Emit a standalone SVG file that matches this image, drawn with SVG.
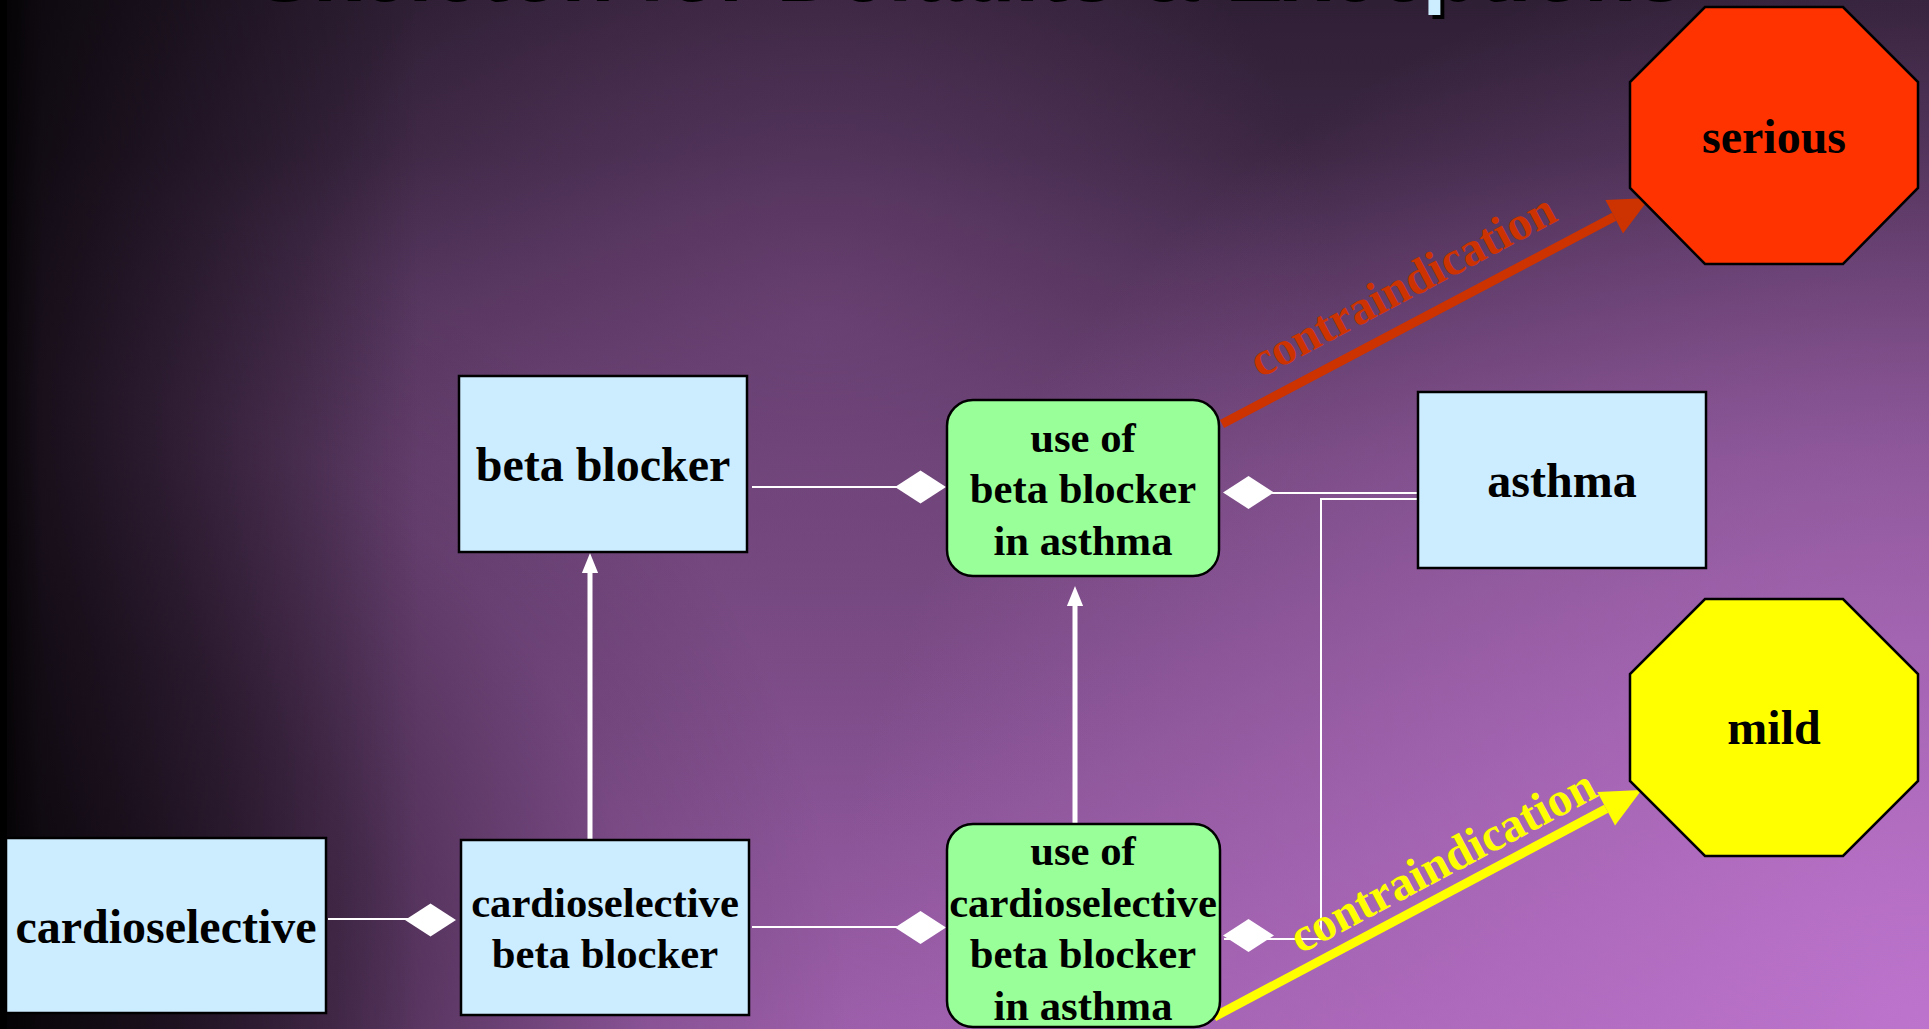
<svg xmlns="http://www.w3.org/2000/svg" width="1929" height="1029" viewBox="0 0 1929 1029">
  <defs>
    <!-- slide background layers -->
    <linearGradient id="bgV" x1="0" y1="0" x2="0" y2="1">
      <stop offset="0" stop-color="#2f1f35"/>
      <stop offset="0.15" stop-color="#3b2642"/>
      <stop offset="0.45" stop-color="#6a4274"/>
      <stop offset="1" stop-color="#9c5eaa"/>
    </linearGradient>
    <radialGradient id="bgBR" cx="1929" cy="1029" r="1100" gradientUnits="userSpaceOnUse">
      <stop offset="0" stop-color="#c076d0" stop-opacity="0.9"/>
      <stop offset="1" stop-color="#c076d0" stop-opacity="0"/>
    </radialGradient>
    <radialGradient id="bgHi" cx="820" cy="330" r="520" gradientUnits="userSpaceOnUse">
      <stop offset="0" stop-color="#7a4a84" stop-opacity="0.55"/>
      <stop offset="1" stop-color="#7a4a84" stop-opacity="0"/>
    </radialGradient>
    <linearGradient id="bgL" x1="0" y1="0" x2="420" y2="0" gradientUnits="userSpaceOnUse">
      <stop offset="0" stop-color="#000" stop-opacity="0.92"/>
      <stop offset="0.1" stop-color="#000" stop-opacity="0.7"/>
      <stop offset="1" stop-color="#000" stop-opacity="0"/>
    </linearGradient>
    <radialGradient id="bgBL" cx="0" cy="1029" r="1000" gradientUnits="userSpaceOnUse">
      <stop offset="0" stop-color="#000" stop-opacity="0.8"/>
      <stop offset="0.4" stop-color="#000" stop-opacity="0.45"/>
      <stop offset="0.65" stop-color="#000" stop-opacity="0.12"/>
      <stop offset="0.85" stop-color="#000" stop-opacity="0"/>
    </radialGradient>

    <!-- arrowheads -->
    <marker id="headWhite" markerUnits="userSpaceOnUse" markerWidth="20" markerHeight="22" refX="0" refY="0" viewBox="0 -10 21 20" orient="auto" overflow="visible">
      <path d="M0,-8.5 L21,0 L0,8.5 z" fill="#ffffff"/>
    </marker>
    <marker id="headRed" markerUnits="userSpaceOnUse" markerWidth="40" markerHeight="40" refX="0" refY="0" viewBox="0 -18 36 36" orient="auto" overflow="visible">
      <path d="M0,-17 L36,0 L0,17 z" fill="#cc3300"/>
    </marker>
    <marker id="headYellow" markerUnits="userSpaceOnUse" markerWidth="40" markerHeight="40" refX="0" refY="0" viewBox="0 -18 36 36" orient="auto" overflow="visible">
      <path d="M0,-17 L36,0 L0,17 z" fill="#ffff00"/>
    </marker>

    <!-- whole/part diamond -->
    <path id="diamond" d="M0,0 L25.5,-16.5 L51,0 L25.5,16.5 z" fill="#ffffff"/>

    <style>
      .box { fill: #ccecff; stroke: #000; stroke-width: 2.5; }
      .use { fill: #99ff99; stroke: #000; stroke-width: 2.5; }
      .oct { stroke: #000; stroke-width: 2.5; }
      .lbl { font-family: "Liberation Serif", "Times New Roman", serif; font-weight: bold; font-size: 48px; fill: #000; text-anchor: middle; }
      .sm { font-size: 42.67px; }
      .thin { stroke: #ffffff; stroke-width: 2; fill: none; }
      .thick { stroke: #ffffff; stroke-width: 5; fill: none; }
      .edge { font-family: "Liberation Serif", "Times New Roman", serif; font-weight: bold; font-size: 48px; text-anchor: middle; }
      .title { font-family: "Liberation Sans", Arial, sans-serif; font-weight: bold; font-size: 86px; text-anchor: middle; }
    </style>
  </defs>

  <!-- background -->
  <rect x="0" y="0" width="1929" height="1029" fill="url(#bgV)"/>
  <rect x="0" y="0" width="1929" height="1029" fill="url(#bgHi)"/>
  <rect x="0" y="0" width="1929" height="1029" fill="url(#bgBR)"/>
  <rect x="0" y="0" width="1929" height="1029" fill="url(#bgBL)"/>
  <rect x="0" y="0" width="420" height="1029" fill="url(#bgL)"/>
  <rect x="0" y="0" width="7" height="1029" fill="#000"/>

  <!-- slide title, mostly above the top edge -->
  <g id="title">
    <text class="title" x="970" y="1" fill="#000">Skeleton for Defaults &amp; Exceptions</text>
    <text class="title" x="966" y="-3" fill="#ccecff">Skeleton for Defaults &amp; Exceptions</text>
  </g>

  <!-- connectors -->
  <g id="connectors">
    <!-- beta blocker is part of use of beta blocker in asthma -->
    <line class="thin" x1="752" y1="487" x2="897" y2="487"/>
    <use href="#diamond" x="895" y="487"/>
    <!-- asthma is part of use of beta blocker in asthma -->
    <line class="thin" x1="1272" y1="493" x2="1417" y2="493"/>
    <use href="#diamond" x="1223" y="492.5"/>
    <!-- asthma is part of use of cardioselective beta blocker in asthma -->
    <polyline class="thin" points="1417,499 1321,499 1321,939 1224,939"/>
    <use href="#diamond" x="1223" y="935.5"/>
    <!-- cardioselective is part of cardioselective beta blocker -->
    <line class="thin" x1="328" y1="919" x2="408" y2="919"/>
    <use href="#diamond" x="405" y="920"/>
    <!-- cardioselective beta blocker is part of use of cardioselective ... -->
    <line class="thin" x1="752" y1="927" x2="897" y2="927"/>
    <use href="#diamond" x="895" y="927.5"/>
    <!-- specialisation arrows -->
    <line class="thick" x1="590" y1="839" x2="590" y2="573" marker-end="url(#headWhite)"/>
    <line class="thick" x1="1075" y1="823" x2="1075" y2="606" marker-end="url(#headWhite)"/>
    <!-- contraindication arrows -->
    <line x1="1222" y1="424" x2="1614.2" y2="216.8" stroke="#cc3300" stroke-width="9" marker-end="url(#headRed)"/>
    <line x1="1214" y1="1017" x2="1606.2" y2="808.8" stroke="#ffff00" stroke-width="9" marker-end="url(#headYellow)"/>
  </g>

  <!-- nodes -->
  <g id="node-beta-blocker">
    <rect class="box" x="459" y="376" width="288" height="176"/>
    <text class="lbl" x="603" y="481">beta blocker</text>
  </g>
  <g id="node-asthma">
    <rect class="box" x="1418" y="392" width="288" height="176"/>
    <text class="lbl" x="1562" y="497">asthma</text>
  </g>
  <g id="node-cardioselective">
    <rect class="box" x="6" y="838" width="320" height="175"/>
    <text class="lbl" x="166" y="943">cardioselective</text>
  </g>
  <g id="node-cardioselective-beta-blocker">
    <rect class="box" x="461" y="840" width="288" height="175"/>
    <text class="lbl sm" x="605" y="917">cardioselective</text>
    <text class="lbl sm" x="605" y="968">beta blocker</text>
  </g>
  <g id="node-use-beta-blocker-asthma">
    <rect class="use" x="947" y="400" width="272" height="176" rx="26" ry="26"/>
    <text class="lbl sm" x="1083" y="452">use of</text>
    <text class="lbl sm" x="1083" y="503">beta blocker</text>
    <text class="lbl sm" x="1083" y="555">in asthma</text>
  </g>
  <g id="node-use-cardioselective-asthma">
    <rect class="use" x="947" y="824" width="273" height="203" rx="26" ry="26"/>
    <text class="lbl sm" x="1083" y="865">use of</text>
    <text class="lbl sm" x="1083" y="917">cardioselective</text>
    <text class="lbl sm" x="1083" y="968">beta blocker</text>
    <text class="lbl sm" x="1083" y="1020">in asthma</text>
  </g>
  <g id="node-serious">
    <polygon class="oct" fill="#ff3300" points="1705,7 1843,7 1918,82 1918,188 1843,264 1705,264 1630,188 1630,82"/>
    <text class="lbl" x="1774" y="153">serious</text>
  </g>
  <g id="node-mild">
    <polygon class="oct" fill="#ffff00" points="1705,599 1843,599 1918,674 1918,781 1843,856 1705,856 1630,781 1630,674"/>
    <text class="lbl" x="1774" y="744">mild</text>
  </g>

  <!-- connector labels -->
  <g id="edge-labels">
    <text class="edge" fill="#cc3300" transform="translate(1410,299) rotate(-27.9)">contraindication</text>
    <text class="edge" fill="#ffff00" transform="translate(1450,875) rotate(-27.9)">contraindication</text>
  </g>
</svg>
